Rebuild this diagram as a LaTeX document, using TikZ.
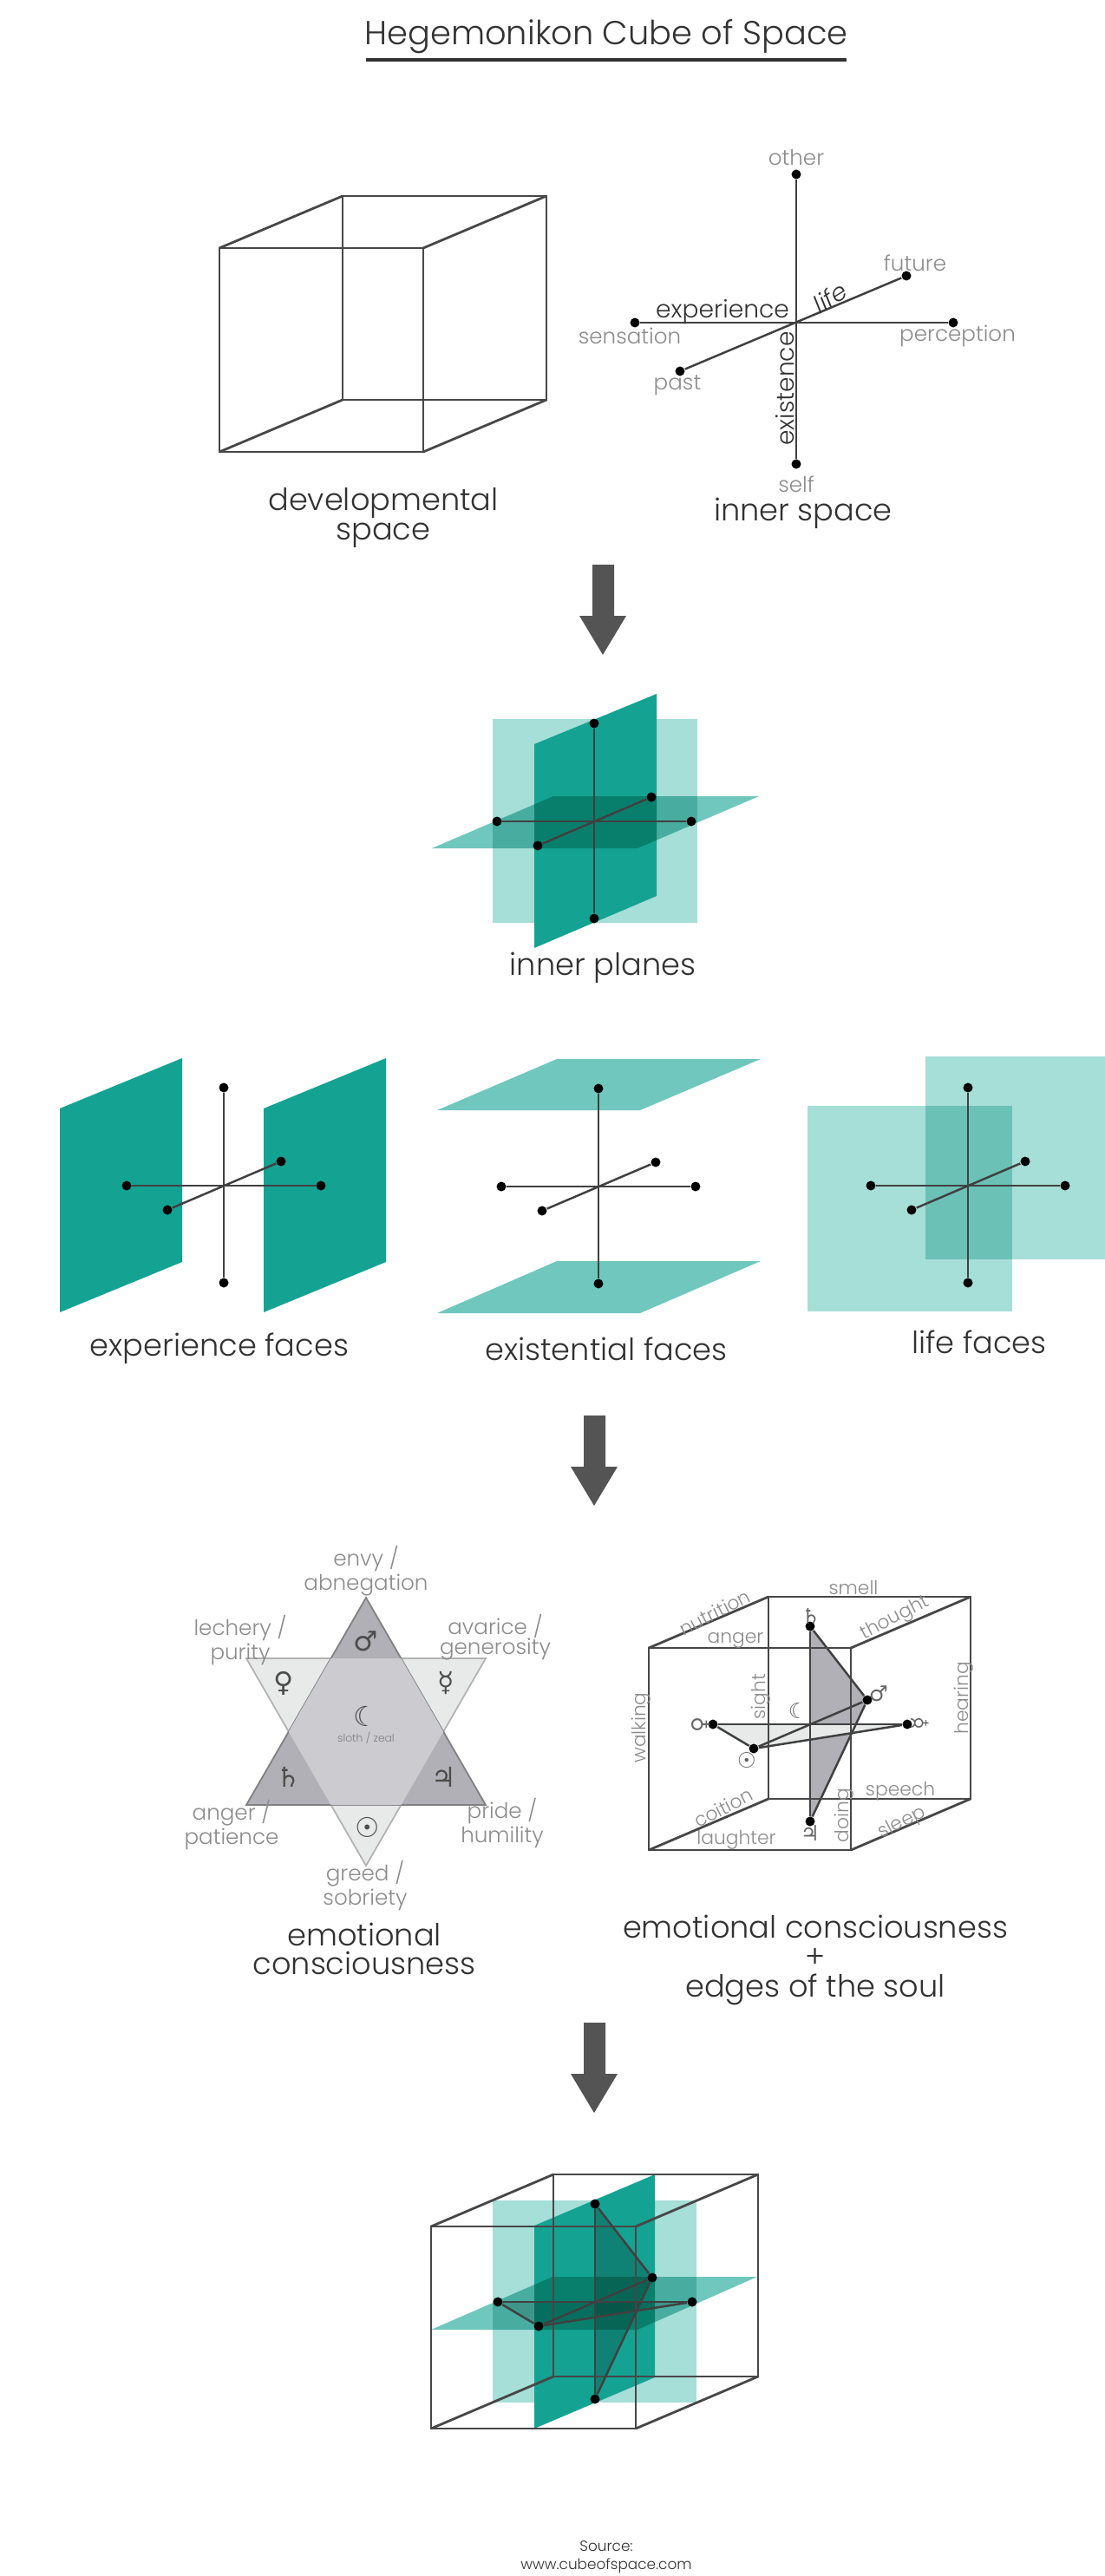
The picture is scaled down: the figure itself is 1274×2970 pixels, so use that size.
\documentclass[tikz,border=0pt]{standalone}
\usepackage{fontspec}
\setmainfont{Poppins}[UprightFont=* Light,ItalicFont=* Light Italic]
\newfontfamily\planetfont{DejaVu Sans}
\definecolor{teal}{RGB}{20,163,147}
\definecolor{tealflat}{RGB}{112,199,189}
\definecolor{teallight}{RGB}{166,222,216}
\definecolor{inkdark}{RGB}{50,50,50}
\definecolor{inkgray}{RGB}{140,140,140}
\definecolor{starmid}{RGB}{203,203,208}
\definecolor{stardark}{RGB}{176,176,182}
\definecolor{starpale}{RGB}{232,234,234}
\tikzset{
    dot/.style={circle,fill=black,inner sep=0pt,minimum size=0.11cm},
    axis/.style={line width=0.7pt,draw=black!75},
    edge/.style={line width=0.8pt,draw=black!72},
    bigtext/.style={font=\fontsize{10}{9.6}\selectfont,text=inkdark,align=center},
    midtext/.style={font=\fontsize{8}{9}\selectfont,text=inkdark},
    smalltext/.style={font=\fontsize{7}{6.6}\selectfont,text=inkgray,align=center},
    soultext/.style={font=\fontsize{6.2}{7}\selectfont,text=inkgray},
    planet/.style={font=\planetfont\fontsize{9}{9}\selectfont,text=black!70},
    minor/.style={font=\planetfont\fontsize{7}{7}\selectfont,text=black!60},
    facedark/.style={fill=teal},
    faceflat/.style={fill=tealflat,blend mode=multiply},
    facelight/.style={fill=teallight,blend mode=multiply},
}
% the six-ended cross of the inner planes: name, centre x, centre y
\newcommand{\innercross}[3]{
    \begin{scope}[shift={(#2,#3)}]
        \node[dot] (#1top) at (0,-113) {};
        \node[dot] (#1bot) at (0,112) {};
        \node[dot] (#1lft) at (-112,0) {};
        \node[dot] (#1rgt) at (112,0) {};
        \node[dot] (#1fut) at (66,-28) {};
        \node[dot] (#1pst) at (-65,28) {};
    \end{scope}
    \draw[axis] (#1top) -- (#1bot);
    \draw[axis] (#1lft) -- (#1rgt);
    \draw[axis] (#1pst) -- (#1fut);
}
% wire cube: name, left, top, width, height, depth x, depth y
\newcommand{\wirecube}[7]{
    \coordinate (#1a) at (#2,#3);
    \coordinate (#1b) at (#2+#4,#3);
    \coordinate (#1c) at (#2+#4,#3+#5);
    \coordinate (#1d) at (#2,#3+#5);
    \coordinate (#1e) at (#2+#6,#3+#7);
    \coordinate (#1f) at (#2+#4+#6,#3+#7);
    \coordinate (#1g) at (#2+#4+#6,#3+#5+#7);
    \coordinate (#1h) at (#2+#6,#3+#5+#7);
    \draw[edge] (#1a) -- (#1b) -- (#1c) -- (#1d) -- cycle;
    \draw[edge] (#1e) -- (#1f) -- (#1g) -- (#1h) -- cycle;
    \draw[edge] (#1a) -- (#1e) (#1b) -- (#1f) (#1c) -- (#1g) (#1d) -- (#1h);
}
% heavy grey down arrow: centre x, top y
\newcommand{\flowarrow}[2]{
    \fill[black!67] (#1-12,#2) -- (#1+13,#2) -- (#1+13,#2+59) -- (#1+27,#2+59)
        -- (#1,#2+104) -- (#1-27,#2+59) -- (#1-12,#2+59) -- cycle;
}
\begin{document}
\begin{tikzpicture}[x=0.01cm,y=-0.01cm]
    \useasboundingbox (0,0) rectangle (1274,2970);
    \fill[white] (0,0) rectangle (1274,2970);

    % title
    \node[font=\fontsize{10.9}{13}\selectfont,text=inkdark] (title) at (699,42) {Hegemonikon Cube of Space};
    \coordinate (ruleL) at (422,69);
    \coordinate (ruleR) at (976,69);
    \draw[line width=1pt,draw=inkdark] (ruleL) -- (ruleR);

    % developmental space
    \wirecube{dev}{253}{286}{235}{235}{142}{-60}
    \node[bigtext] (devlabel) at (442,597) {developmental\\space};

    % inner space
    \node[dot] (sptop) at (918,201) {};
    \node[dot] (spbot) at (918,535) {};
    \node[dot] (splft) at (732,372) {};
    \node[dot] (sprgt) at (1099,372) {};
    \node[dot] (spfut) at (1045,318) {};
    \node[dot] (sppst) at (784,428) {};
    \draw[axis] (sptop) -- (spbot);
    \draw[axis] (splft) -- (sprgt);
    \draw[axis] (sppst) -- (spfut);
    \node[smalltext] (other) at (918,181) {other};
    \node[smalltext] (future) at (1055,303) {future};
    \node[smalltext] (sensation) at (726,387) {sensation};
    \node[smalltext] (perception) at (1104,387) {perception};
    \node[smalltext] (past) at (781,444) {past};
    \node[smalltext] (self) at (918,558) {self};
    \node[midtext] (experience) at (833,360) {experience};
    \node[midtext,font=\itshape\fontsize{8}{9}\selectfont,rotate=32] (life) at (957,343) {life};
    \node[midtext,rotate=90] (existence) at (905,448) {existence};
    \node[bigtext] (innerlabel) at (926,592) {inner space};

    \flowarrow{695}{651}

    % inner planes
    \fill[facelight] (568,829) rectangle (804,1064);
    \fill[facedark] (616,858) -- (757,800) -- (757,1033) -- (616,1093) -- cycle;
    \fill[faceflat] (498,978) -- (638,918) -- (875,918) -- (735,978) -- cycle;
    \innercross{pl}{685}{947}
    \node[bigtext] (planelabel) at (695,1116) {inner planes};

    % experience faces
    \fill[facedark] (69,1278) -- (210,1220) -- (210,1455) -- (69,1513) -- cycle;
    \fill[facedark] (304,1278) -- (445,1220) -- (445,1455) -- (304,1513) -- cycle;
    \innercross{xp}{258}{1367}
    \node[bigtext] (xplabel) at (253,1555) {experience faces};

    % existential faces
    \fill[faceflat] (504,1280) -- (642,1221) -- (877,1221) -- (738,1280) -- cycle;
    \fill[faceflat] (504,1514) -- (642,1454) -- (877,1454) -- (738,1514) -- cycle;
    \innercross{ex}{690}{1368}
    \node[bigtext] (exlabel) at (699,1555) {existential faces};

    % life faces
    \fill[facelight] (1067,1218) rectangle (1274,1452);
    \fill[facelight] (931,1275) rectangle (1167,1512);
    \innercross{lf}{1116}{1367}
    \node[bigtext] (lflabel) at (1129,1547) {life faces};

    \flowarrow{685}{1632}

    % star of the sins
    \coordinate (upA) at (422,1842);
    \coordinate (upB) at (560,2081);
    \coordinate (upC) at (284,2081);
    \coordinate (dnA) at (284,1912);
    \coordinate (dnB) at (560,1912);
    \coordinate (dnC) at (422,2151);
    \filldraw[fill=starpale,draw=black!30,line width=0.5pt] (dnA) -- (dnB) -- (dnC) -- cycle;
    \filldraw[fill=stardark,draw=black!50,line width=0.5pt] (upA) -- (upB) -- (upC) -- cycle;
    \begin{scope}
        \clip (upA) -- (upB) -- (upC) -- cycle;
        \fill[starmid] (dnA) -- (dnB) -- (dnC) -- cycle;
    \end{scope}
    \node[planet] (mars) at (422,1892) {♂};
    \node[planet] (venus) at (327,1941) {♀};
    \node[planet] (mercury) at (514,1941) {☿};
    \node[planet] (moon) at (422,1979) {☾};
    \node[planet] (saturn) at (333,2049) {♄};
    \node[planet] (jupiter) at (512,2049) {♃};
    \node[planet] (sun) at (424,2107) {☉};
    \node[font=\fontsize{3.5}{4}\selectfont,text=black!50] (moontext) at (422,2004) {sloth / zeal};
    \node[smalltext] (envy) at (422,1811) {envy /\\abnegation};
    \node[smalltext] (lechery) at (277,1891) {lechery /\\purity};
    \node[smalltext] (avarice) at (571,1888) {avarice /\\generosity};
    \node[smalltext] (anger) at (267,2104) {anger /\\patience};
    \node[smalltext] (pride) at (579,2102) {pride /\\humility};
    \node[smalltext] (greed) at (421,2174) {greed /\\sobriety};
    \node[bigtext] (emolabel) at (420,2247) {emotional\\consciousness};

    % edges of the soul
    \fill[stardark] (934,1876) -- (1000,1960) -- (934,2100) -- cycle;
    \fill[starpale] (822,1988) -- (869,2016) -- (1046,1988) -- cycle;
    \innercross{so}{934}{1988}
    \draw[axis] (sotop) -- (sofut) -- (sobot);
    \draw[axis] (solft) -- (sopst) -- (sorgt);
    \wirecube{cu}{748}{1900}{233}{233}{138}{-59}
    \node[soultext,rotate=27] (nutrition) at (824,1859) {nutrition};
    \node[soultext] (smell) at (984,1831) {smell};
    \node[soultext] (ang) at (848,1891) {anger};
    \node[soultext,rotate=27] (thought) at (1032,1866) {thought};
    \node[soultext,rotate=90] (walking) at (739,1992) {walking};
    \node[soultext,rotate=90] (sight) at (877,1956) {sight};
    \node[soultext,rotate=90] (hearing) at (1111,1958) {hearing};
    \node[soultext,rotate=27] (coition) at (834,2084) {coition};
    \node[soultext] (laughter) at (849,2121) {laughter};
    \node[soultext] (speech) at (1038,2065) {speech};
    \node[soultext,rotate=90] (doing) at (973,2093) {doing};
    \node[soultext,rotate=27] (sleep) at (1040,2102) {sleep};
    \node[minor] (cusaturn) at (935,1863) {♄};
    \node[minor] (cujupiter) at (934,2113) {♃};
    \node[minor,rotate=90] (cuvenus) at (808,1988) {♀};
    \node[minor,rotate=90] (cumercury) at (1061,1987) {☿};
    \node[minor] (cumars) at (1013,1953) {♂};
    \node[minor] (cusun) at (861,2029) {☉};
    \node[minor] (cumoon) at (920,1972) {☾};
    \node[bigtext] (soullabel) at (940,2260) {emotional consciousness\\+\\edges of the soul};

    \flowarrow{685}{2332}

    % everything together
    \fill[facelight] (568,2537) rectangle (803,2770);
    \fill[facedark] (616,2566) -- (755,2507) -- (755,2741) -- (616,2800) -- cycle;
    \fill[black,opacity=0.2] (686,2541) -- (752,2626) -- (686,2766) -- cycle;
    \fill[faceflat] (497,2686) -- (637,2625) -- (873,2625) -- (735,2686) -- cycle;
    \fill[black,opacity=0.13] (573,2653) -- (619,2682) -- (798,2653) -- cycle;
    \wirecube{al}{497}{2567}{236}{233}{141}{-60}
    \innercross{al}{686}{2654}
    \draw[axis] (altop) -- (alfut) -- (albot);
    \draw[axis] (allft) -- (alpst) -- (alrgt);

    \node[font=\fontsize{4.8}{5.8}\selectfont,text=inkdark,align=center] (source) at (699,2948) {Source:\\www.cubeofspace.com};
\end{tikzpicture}
\end{document}
